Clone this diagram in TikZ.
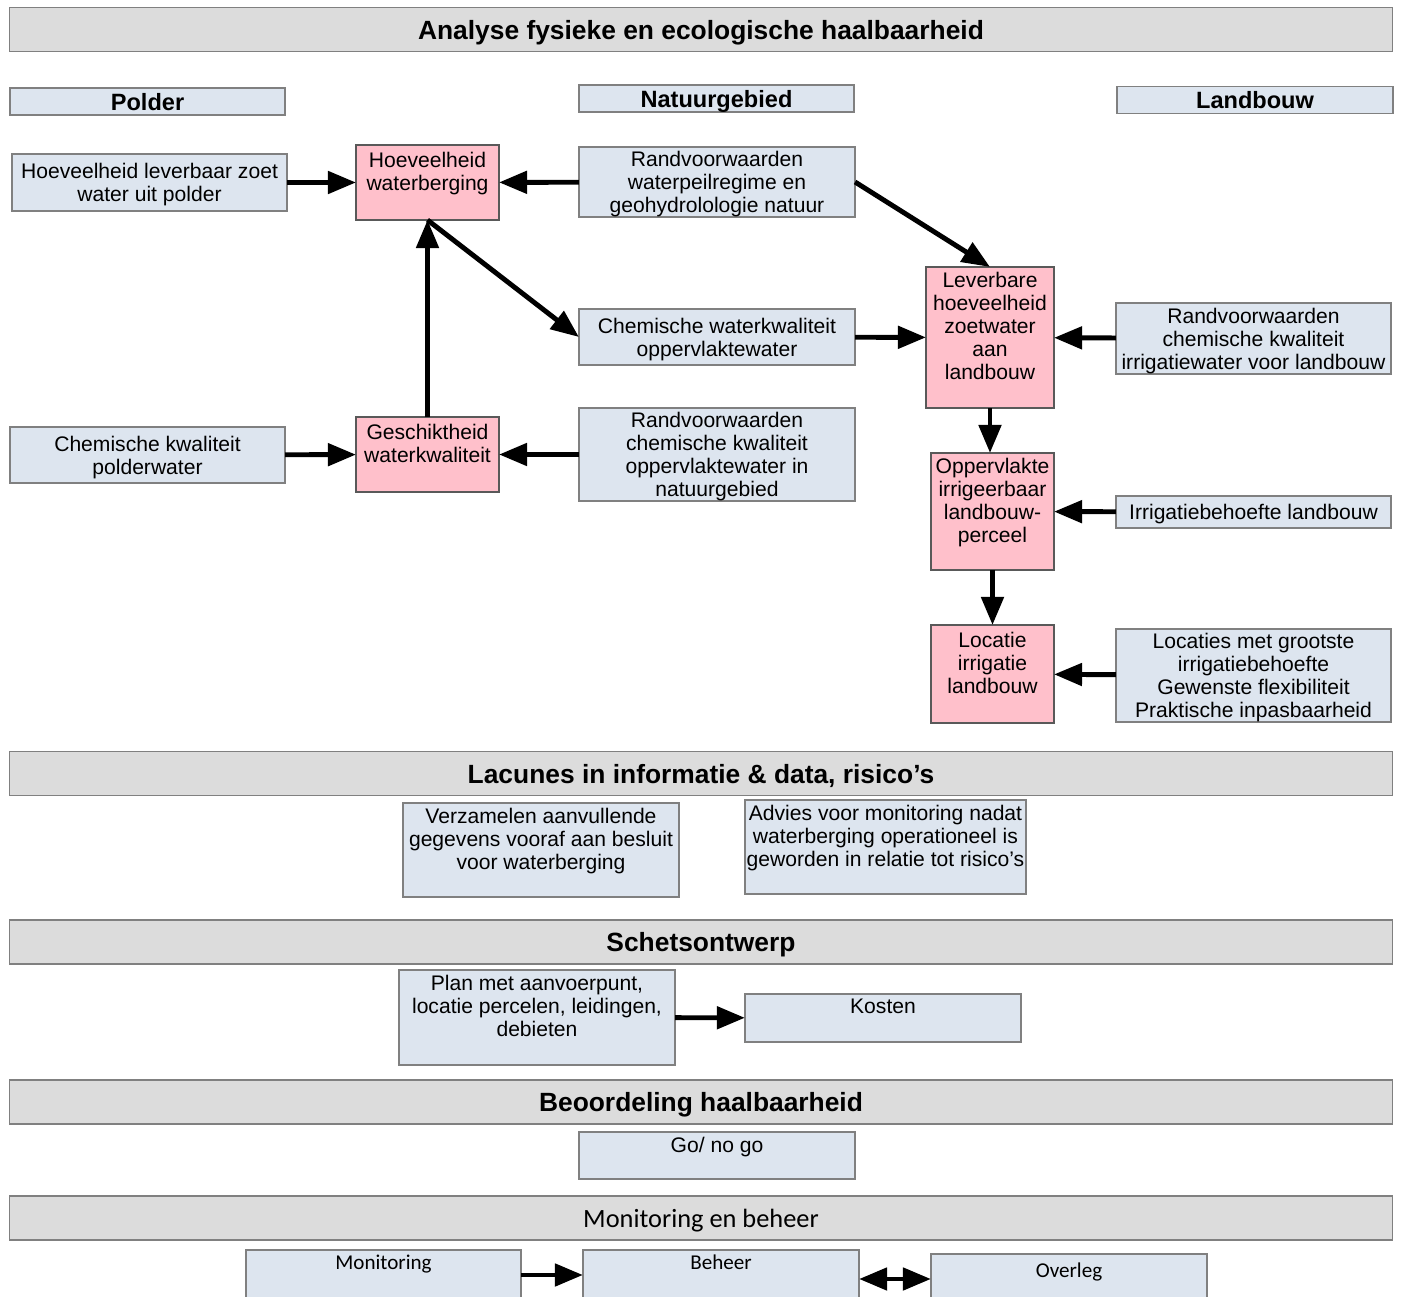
\documentclass[tikz,border=0pt]{standalone}
\usepackage{fontspec}
\setmainfont{Liberation Sans}
\newfontfamily\carlito{Carlito}
\usetikzlibrary{arrows.meta}
\definecolor{hdrgray}{RGB}{220,220,220}
\definecolor{boxblue}{RGB}{221,229,239}
\definecolor{boxpink}{RGB}{255,192,203}
\definecolor{linegray}{RGB}{128,128,128}

\begin{document}
\begin{tikzpicture}[x=0.01cm, y=-0.01cm,
  every node/.style={inner sep=0pt, outer sep=0pt},
  hdrbar/.style={draw=linegray, fill=hdrgray, minimum width=13.82cm, minimum height=0.44cm, text depth=0pt, font=\fontsize{7.5}{9}\selectfont\bfseries},
  colhead/.style={draw=linegray, fill=boxblue, minimum width=2.75cm, minimum height=0.27cm, text depth=0pt, font=\fontsize{6.7}{8}\selectfont\bfseries},
  infobox/.style={draw=linegray, fill=boxblue, align=center, minimum width=2.75cm, text depth=0pt, font=\fontsize{6}{6.55}\selectfont},
  keybox/.style={draw=black!65, fill=boxpink, align=center, font=\fontsize{6}{6.55}\selectfont},
  labeltext/.style={anchor=north, align=center, inner sep=0.05cm, font=\fontsize{6}{6.55}\selectfont},
  flow/.style={line width=1.4pt, -{Triangle[length=2.8mm,width=2.2mm]}}]

\clip (0,0) rectangle (1402,1297);

%analyse header and columns
\node [hdrbar] (hdra) at (701,29.5) {Analyse fysieke en ecologische haalbaarheid};
\node [colhead] (polder) at (147.5,101.5) {Polder};
\node [colhead] (natuur) at (716.5,98.5) {Natuurgebied};
\node [colhead,minimum width=2.76cm] (landbouw) at (1255,100) {Landbouw};

%polder column
\node [infobox,minimum height=0.57cm] (hlz) at (149.5,182.5) {Hoeveelheid leverbaar zoet\\water uit polder};
\node [infobox,minimum height=0.56cm] (ckp) at (147.5,455) {Chemische kwaliteit\\polderwater};

%waterberging
\node [keybox,minimum width=1.43cm,minimum height=0.75cm] (hwb) at (427.5,182.5) {};
\node [labeltext,yshift=-0.6pt] (hwb-t) at (hwb.north) {Hoeveelheid\\waterberging};
\node [keybox,minimum width=1.43cm,minimum height=0.75cm] (gwk) at (427.5,454.5) {};
\node [labeltext,yshift=-0.6pt] (gwk-t) at (gwk.north) {Geschiktheid\\waterkwaliteit};

%natuur column
\node [infobox,minimum width=2.76cm,minimum height=0.70cm] (rwp) at (717,182) {Randvoorwaarden\\waterpeilregime en\\geohydrolologie natuur};
\node [infobox,minimum width=2.76cm,minimum height=0.56cm] (cwo) at (717,337) {Chemische waterkwaliteit\\oppervlaktewater};
\node [infobox,minimum width=2.76cm,minimum height=0.93cm] (rco) at (717,454.5) {Randvoorwaarden\\chemische kwaliteit\\oppervlaktewater in\\natuurgebied};

%landbouw column
\node [keybox,minimum width=1.28cm,minimum height=1.41cm] (lhz) at (990,337.5) {};
\node [labeltext] (lhz-t) at (lhz.north) {Leverbare\\hoeveelheid\\zoetwater\\aan\\landbouw};
\node [keybox,minimum width=1.23cm,minimum height=1.17cm] (oil) at (992.5,511.5) {};
\node [labeltext] (oil-t) at (oil.north) {Oppervlakte\\irrigeerbaar\\landbouw-\\perceel};
\node [keybox,minimum width=1.23cm,minimum height=0.98cm] (lil) at (992.5,674) {};
\node [labeltext,yshift=-0.6pt] (lil-t) at (lil.north) {Locatie\\irrigatie\\landbouw};
\node [infobox,minimum height=0.71cm] (rci) at (1253.5,338.5) {Randvoorwaarden\\chemische kwaliteit\\irrigatiewater voor landbouw};
\node [infobox,minimum height=0.32cm] (ibl) at (1253.5,512) {Irrigatiebehoefte landbouw};
\node [infobox,minimum height=0.93cm] (lmg) at (1253.5,675.5) {Locaties met grootste\\irrigatiebehoefte\\Gewenste flexibiliteit\\Praktische inpasbaarheid};

%analyse arrows
\draw [flow] (hlz) -- (hwb);
\draw [flow] (rwp) -- (hwb);
\draw [flow] (rwp.east) -- (lhz.north);
\draw [flow] (hwb.south) -- (cwo.west);
\draw [flow] (gwk) -- (hwb);
\draw [flow] (cwo) -- (lhz);
\draw [flow] (rci) -- (lhz);
\draw [flow] (ckp) -- (gwk);
\draw [flow] (rco) -- (gwk);
\draw [flow] (lhz.south) -- (lhz.south |- oil.north);
\draw [flow] (ibl) -- (oil);
\draw [flow] (oil) -- (lil);
\draw [flow] (lmg) -- (lil);

%lacunes
\node [hdrbar] (hdrb) at (701,773.5) {Lacunes in informatie \& data, risico’s};
\node [infobox,minimum width=2.76cm,minimum height=0.94cm] (vag) at (541,850) {};
\node [labeltext] (vag-t) at (vag.north) {Verzamelen aanvullende\\gegevens vooraf aan besluit\\voor waterberging};
\node [infobox,minimum width=2.81cm,minimum height=0.94cm] (avm) at (885.5,847) {};
\node [labeltext] (avm-t) at (avm.north) {Advies voor monitoring nadat\\waterberging operationeel is\\geworden in relatie tot risico’s};

%schetsontwerp
\node [hdrbar] (hdrc) at (701,942) {Schetsontwerp};
\node [infobox,minimum width=2.76cm,minimum height=0.95cm] (pma) at (537,1017.5) {};
\node [labeltext] (pma-t) at (pma.north) {Plan met aanvoerpunt,\\locatie percelen, leidingen,\\debieten};
\node [infobox,minimum width=2.76cm,minimum height=0.48cm] (kst) at (883,1018) {};
\node [labeltext] (kst-t) at (kst.north) {Kosten};
\draw [flow] (pma) -- (kst);

%beoordeling
\node [hdrbar] (hdrd) at (701,1102) {Beoordeling haalbaarheid};
\node [infobox,minimum width=2.76cm,minimum height=0.47cm] (gng) at (717,1155.5) {};
\node [labeltext] (gng-t) at (gng.north) {Go/ no go};

%monitoring en beheer
\node [hdrbar,font=\carlito\fontsize{7.5}{9}\selectfont] (hdre) at (701,1218) {Monitoring en beheer};
\node [infobox,minimum height=0.50cm] (mon) at (383.5,1275) {};
\node [labeltext,font=\carlito\fontsize{6}{7}\selectfont] (mon-t) at (mon.north) {Monitoring};
\node [infobox,minimum width=2.76cm,minimum height=0.50cm] (beh) at (721,1275) {};
\node [labeltext,font=\carlito\fontsize{6}{7}\selectfont] (beh-t) at (beh.north) {Beheer};
\node [infobox,minimum width=2.76cm,minimum height=0.50cm] (ovl) at (1069,1279) {};
\node [labeltext,font=\carlito\fontsize{6}{7}\selectfont] (ovl-t) at ([yshift=-1pt]ovl.north) {Overleg};
\draw [flow] (mon) -- (beh);
\draw [flow,{Triangle[length=2.8mm,width=2.2mm]}-{Triangle[length=2.8mm,width=2.2mm]}] (beh.east |- ovl.west) -- (ovl.west);

\end{tikzpicture}
\end{document}
